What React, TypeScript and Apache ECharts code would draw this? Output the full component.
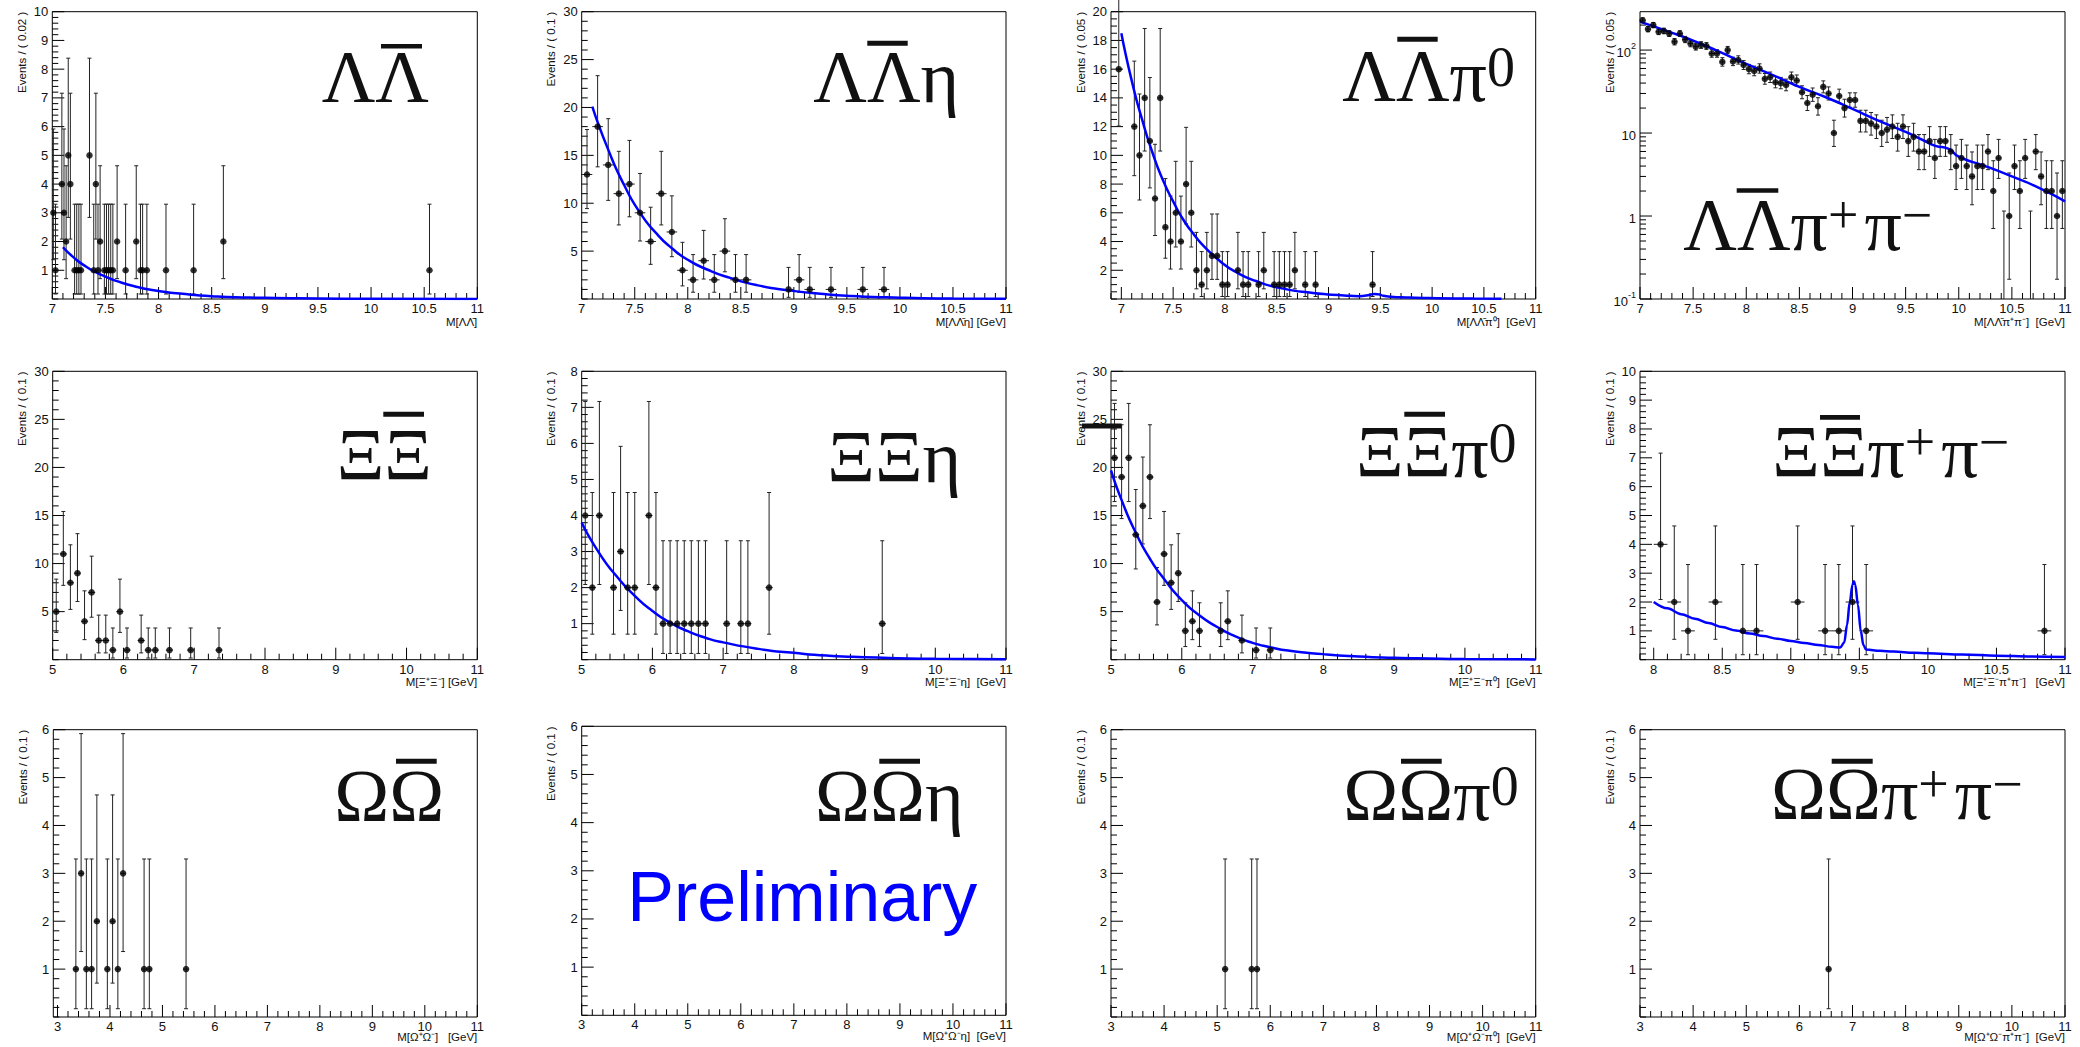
import { useEffect, useRef } from "react";
import * as echarts from "echarts";

// ---------- Poisson (Garwood 68%) intervals for small counts ----------
const POIS_LO = [0, 0.173, 0.708, 1.367, 2.086, 2.84, 3.62, 4.419, 5.232, 6.057, 6.891, 7.734, 8.585, 9.441, 10.3, 11.17, 12.04, 12.92, 13.8, 14.68, 15.57, 16.45];
const POIS_HI = [1.148, 3.3, 4.638, 5.918, 7.163, 8.382, 9.584, 10.77, 11.95, 13.11, 14.27, 15.42, 16.56, 17.7, 18.83, 19.96, 21.08, 22.2, 23.32, 24.44, 25.55, 26.66];

// ---------- tick labels ----------
const X_LAB_7 = [7, 7.5, 8, 8.5, 9, 9.5, 10, 10.5, 11];
const X_LAB_5 = [5, 6, 7, 8, 9, 10, 11];
const X_LAB_8 = [8, 8.5, 9, 9.5, 10, 10.5, 11];
const X_LAB_3 = [3, 4, 5, 6, 7, 8, 9, 10, 11];
const Y_LAB_10 = [1, 2, 3, 4, 5, 6, 7, 8, 9, 10];
const Y_LAB_30 = [5, 10, 15, 20, 25, 30];
const Y_LAB_20 = [2, 4, 6, 8, 10, 12, 14, 16, 18, 20];
const Y_LAB_8 = [1, 2, 3, 4, 5, 6, 7, 8];
const Y_LAB_6 = [1, 2, 3, 4, 5, 6];
const Y_LAB_LOG = [0.1, 1, 10, 100];

// ---------- Lambda Lambdabar ----------
const LL_X = [7.01, 7.03, 7.09, 7.11, 7.13, 7.15, 7.17, 7.21, 7.23, 7.25, 7.27, 7.35, 7.39, 7.41, 7.43, 7.45, 7.49, 7.51, 7.53, 7.55, 7.57, 7.61, 7.69, 7.79, 7.83, 7.85, 7.89, 8.07, 8.33, 8.61, 10.55];
const LL_N = [3, 1, 4, 3, 2, 5, 4, 1, 1, 1, 1, 5, 1, 4, 1, 2, 1, 1, 1, 1, 1, 2, 1, 2, 1, 1, 1, 1, 1, 2, 1];
const LL_FIT_X = [7.1, 7.2, 7.3, 7.4, 7.5, 7.6, 7.8, 8.0, 8.2, 8.5, 9.0, 9.5, 10.0, 11.0];
const LL_FIT_Y = [1.8, 1.45, 1.17, 0.95, 0.78, 0.63, 0.42, 0.28, 0.19, 0.1, 0.04, 0.02, 0.01, 0.003];

// ---------- Lambda Lambdabar eta ----------
const LLE_X = [7.05, 7.15, 7.25, 7.35, 7.45, 7.55, 7.65, 7.75, 7.85, 7.95, 8.05, 8.15, 8.25, 8.35, 8.45, 8.55, 8.95, 9.05, 9.15, 9.35, 9.65, 9.85];
const LLE_N = [13, 18, 14, 11, 12, 9, 6, 11, 7, 3, 2, 4, 2, 5, 2, 2, 1, 2, 1, 1, 1, 1];
const LLE_FIT_X = [7.1, 7.25, 7.4, 7.55, 7.7, 7.85, 8.0, 8.2, 8.4, 8.65, 8.95, 9.25, 9.55, 10.0, 10.5, 11.0];
const LLE_FIT_Y = [20.1, 15.6, 11.9, 9.0, 6.9, 5.3, 4.1, 3.0, 2.2, 1.45, 0.9, 0.55, 0.32, 0.14, 0.05, 0.02];

// ---------- Lambda Lambdabar pi0 ----------
const LLP_X = [6.975, 7.125, 7.175, 7.225, 7.275, 7.325, 7.375, 7.425, 7.475, 7.525, 7.575, 7.625, 7.675, 7.725, 7.775, 7.825, 7.875, 7.925, 7.975, 8.025, 8.125, 8.175, 8.225, 8.325, 8.375, 8.475, 8.525, 8.575, 8.625, 8.675, 8.775, 8.875, 9.425];
const LLP_N = [16, 12, 10, 14, 11, 7, 14, 5, 4, 6, 4, 8, 6, 2, 1, 2, 3, 3, 1, 1, 2, 1, 1, 1, 2, 1, 1, 1, 1, 2, 1, 1, 1];
const LLP_FIT_X = [7.0, 7.1, 7.2, 7.3, 7.4, 7.5, 7.6, 7.7, 7.8, 7.95, 8.1, 8.3, 8.55, 8.85, 9.15, 9.3, 9.38, 9.44, 9.48, 9.53, 9.6, 9.75, 10.05, 10.4, 10.67];
const LLP_FIT_Y = [18.5, 15.2, 12.5, 10.2, 8.3, 6.8, 5.5, 4.5, 3.65, 2.65, 1.9, 1.25, 0.74, 0.42, 0.25, 0.2, 0.26, 0.34, 0.33, 0.22, 0.16, 0.11, 0.06, 0.03, 0.02];

// ---------- Lambda Lambdabar pi+ pi- (log) ----------
const LLPP_X = [7.025, 7.075, 7.125, 7.175, 7.225, 7.275, 7.325, 7.375, 7.425, 7.475, 7.525, 7.575, 7.625, 7.675, 7.725, 7.775, 7.825, 7.875, 7.925, 7.975, 8.025, 8.075, 8.125, 8.175, 8.225, 8.275, 8.325, 8.375, 8.425, 8.475, 8.525, 8.575, 8.625, 8.675, 8.725, 8.775, 8.825, 8.875, 8.925, 8.975, 9.025, 9.075, 9.125, 9.175, 9.225, 9.275, 9.325, 9.375, 9.425, 9.475, 9.525, 9.575, 9.625, 9.675, 9.725, 9.775, 9.825, 9.875, 9.925, 9.975, 10.025, 10.075, 10.125, 10.175, 10.225, 10.275, 10.325, 10.375, 10.425, 10.475, 10.525, 10.575, 10.625, 10.675, 10.725, 10.775, 10.825, 10.875, 10.925, 10.975];
const LLPP_N = [229, 179, 200, 166, 170, 158, 126, 158, 134, 120, 110, 115, 112, 91, 91, 72, 100, 73, 76, 66, 59, 56, 60, 45, 47, 41, 40, 38, 47, 43, 31, 23, 29, 21, 36, 30, 10, 28, 20, 25, 25, 14, 14, 13, 12, 10, 11, 12, 9, 12, 8, 9, 6, 6, 8, 5, 8, 8, 6, 4, 5, 4, 3, 4, 4, 6, 2, 5, 0, 1, 4, 2, 5, 0, 6, 3, 2, 2, 1, 2];
const LLPP_FIT_X = [7.0, 7.25, 7.5, 7.75, 8.0, 8.25, 8.5, 8.75, 9.0, 9.25, 9.5, 9.7, 9.78, 9.9, 10.0, 10.25, 10.5, 10.75, 11.0];
const LLPP_FIT_Y = [220, 170, 130, 95, 68, 50, 36, 27, 19.5, 14, 10.3, 7.8, 7.0, 6.5, 5.2, 4.0, 3.0, 2.2, 1.5];

// ---------- Xi Xibar ----------
const XX_X = [5.05, 5.15, 5.25, 5.35, 5.45, 5.55, 5.65, 5.75, 5.85, 5.95, 6.05, 6.25, 6.35, 6.45, 6.65, 6.95, 7.35];
const XX_N = [5, 11, 8, 9, 4, 7, 2, 2, 1, 5, 1, 2, 1, 1, 1, 1, 1];

// ---------- Xi Xibar eta ----------
const XXE_X = [5.05, 5.15, 5.25, 5.45, 5.55, 5.65, 5.75, 5.95, 6.05, 6.15, 6.25, 6.35, 6.45, 6.55, 6.65, 6.75, 7.05, 7.25, 7.35, 7.65, 9.25];
const XXE_N = [4, 2, 4, 2, 3, 2, 2, 4, 2, 1, 1, 1, 1, 1, 1, 1, 1, 1, 1, 2, 1];
const XXE_FIT_X = [5.0, 5.25, 5.5, 5.75, 6.0, 6.25, 6.5, 6.75, 7.0, 7.5, 8.0, 8.5, 9.0, 10.0, 11.0];
const XXE_FIT_Y = [3.8, 2.95, 2.3, 1.77, 1.35, 1.03, 0.79, 0.61, 0.48, 0.3, 0.19, 0.11, 0.07, 0.025, 0.01];

// ---------- Xi Xibar pi0 ----------
const XXP_X = [5.05, 5.15, 5.25, 5.35, 5.45, 5.55, 5.65, 5.75, 5.85, 5.95, 6.05, 6.15, 6.25, 6.55, 6.65, 6.85, 7.05, 7.25];
const XXP_N = [21, 19, 21, 13, 16, 19, 6, 11, 8, 9, 3, 4, 3, 3, 4, 2, 1, 1];
const XXP_FIT_X = [5.0, 5.15, 5.35, 5.55, 5.75, 6.0, 6.25, 6.5, 6.75, 7.0, 7.25, 7.5, 8.0, 8.5, 9.0, 9.5, 10.0, 11.0];
const XXP_FIT_Y = [19.7, 16.6, 13.2, 10.5, 8.4, 6.2, 4.6, 3.4, 2.45, 1.75, 1.3, 0.95, 0.58, 0.34, 0.2, 0.12, 0.07, 0.03];
const XXP_STRAY = [[4.59, 24.3, 5.15]];

// ---------- Xi Xibar pi+ pi- ----------
const XXPP_X = [8.05, 8.15, 8.25, 8.45, 8.65, 8.75, 9.05, 9.25, 9.35, 9.45, 9.55, 10.85];
const XXPP_N = [4, 2, 1, 2, 1, 1, 2, 1, 1, 2, 1, 1];
const XXPP_FIT_X = [8.0, 8.1, 8.2, 8.3, 8.4, 8.5, 8.6, 8.7, 8.8, 8.9, 9.0, 9.1, 9.2, 9.3, 9.36, 9.39, 9.41, 9.43, 9.45, 9.46, 9.47, 9.49, 9.51, 9.53, 9.55, 9.65, 9.75, 9.9, 10.0, 10.25, 10.5, 10.75, 11.0];
const XXPP_FIT_Y = [2.0, 1.78, 1.58, 1.42, 1.27, 1.13, 1.01, 0.91, 0.82, 0.73, 0.65, 0.58, 0.51, 0.45, 0.42, 0.6, 1.2, 2.0, 2.6, 2.72, 2.6, 1.9, 1.0, 0.5, 0.35, 0.31, 0.28, 0.24, 0.22, 0.18, 0.14, 0.11, 0.09];

// ---------- Omega Omegabar ----------
const OO_X = [3.35, 3.45, 3.55, 3.65, 3.75, 3.95, 4.05, 4.15, 4.25, 4.65, 4.75, 5.45];
const OO_N = [1, 3, 1, 1, 2, 1, 2, 1, 3, 1, 1, 1];
const OOE_X: number[] = [];
const OOE_N: number[] = [];
const OOP_X = [5.15, 5.65, 5.75];
const OOP_N = [1, 1, 1];
const OOPP_X = [6.55];
const OOPP_N = [1];

const SANS = '"Liberation Sans", Arial, Helvetica, sans-serif';
const SERIF = '"Liberation Serif", "Times New Roman", serif';
const INK = "#111";

type Panel = any;

const PANELS: Panel[] = [
  { grid: [52.3, 11.7, 425, 287.3], xr: [7, 11], xl: X_LAB_7, xm: 0.1, yr: [0, 10], yl: Y_LAB_10, ym: 0.2, x: LL_X, n: LL_N, hw: 0.01, fx: LL_FIT_X, fy: LL_FIT_Y, yt: "Events / ( 0.02 )", xt: "M[ΛΛ\u0304]", xty: 322 },
  { grid: [581.7, 11.7, 424.3, 287.3], xr: [7, 11], xl: X_LAB_7, xm: 0.1, yr: [0, 30], yl: Y_LAB_30, ym: 1, x: LLE_X, n: LLE_N, hw: 0.05, fx: LLE_FIT_X, fy: LLE_FIT_Y, yt: "Events / ( 0.1 )", xt: "M[ΛΛ\u0304η] [GeV]", xty: 322 },
  { grid: [1111, 11.7, 424.7, 287.3], xr: [6.9, 11], xl: X_LAB_7, xm: 0.1, yr: [0, 20], yl: Y_LAB_20, ym: 0.5, x: LLP_X, n: LLP_N, hw: 0.025, fx: LLP_FIT_X, fy: LLP_FIT_Y, yt: "Events / ( 0.05 )", xt: "M[ΛΛ\u0304π⁰]  [GeV]", xty: 322 },
  { grid: [1640, 11.7, 425, 287.3], xr: [7, 11], xl: X_LAB_7, xm: 0.1, log: true, yr: [0.1, 290], yl: Y_LAB_LOG, ym: 0, x: LLPP_X, n: LLPP_N, hw: 0.025, fx: LLPP_FIT_X, fy: LLPP_FIT_Y, yt: "Events / ( 0.05 )", xt: "M[ΛΛ\u0304π⁺π⁻]  [GeV]", xty: 322 },
  { grid: [52.7, 371.3, 424.6, 288.4], xr: [5, 11], xl: X_LAB_5, xm: 0.2, yr: [0, 30], yl: Y_LAB_30, ym: 1, x: XX_X, n: XX_N, hw: 0.05, yt: "Events / ( 0.1 )", xt: "M[Ξ⁺Ξ⁻] [GeV]", xty: 681.5 },
  { grid: [581.7, 371.3, 424.3, 288.4], xr: [5, 11], xl: X_LAB_5, xm: 0.2, yr: [0, 8], yl: Y_LAB_8, ym: 0.2, x: XXE_X, n: XXE_N, hw: 0.05, fx: XXE_FIT_X, fy: XXE_FIT_Y, yt: "Events / ( 0.1 )", xt: "M[Ξ⁺Ξ⁻η]  [GeV]", xty: 681.5 },
  { grid: [1111, 371.3, 424.7, 288.4], xr: [5, 11], xl: X_LAB_5, xm: 0.2, yr: [0, 30], yl: Y_LAB_30, ym: 1, x: XXP_X, n: XXP_N, hw: 0.05, fx: XXP_FIT_X, fy: XXP_FIT_Y, stray: XXP_STRAY, yt: "Events / ( 0.1 )", xt: "M[Ξ⁺Ξ⁻π⁰]  [GeV]", xty: 681.5 },
  { grid: [1640, 371.3, 425, 288.4], xr: [7.9, 11], xl: X_LAB_8, xm: 0.1, yr: [0, 10], yl: Y_LAB_10, ym: 0.2, x: XXPP_X, n: XXPP_N, hw: 0.05, fx: XXPP_FIT_X, fy: XXPP_FIT_Y, peak: true, yt: "Events / ( 0.1 )", xt: "M[Ξ⁺Ξ⁻π⁺π⁻]   [GeV]", xty: 681.5 },
  { grid: [53.3, 729.7, 424, 287.3], xr: [2.92, 11], xl: X_LAB_3, xm: 0.2, yr: [0, 6], yl: Y_LAB_6, ym: 0.2, x: OO_X, n: OO_N, hw: 0.05, yt: "Events / ( 0.1 )", xt: "M[Ω⁺Ω⁻]   [GeV]", xty: 1037 },
  { grid: [581.7, 726.3, 424.3, 289], xr: [3, 11], xl: X_LAB_3, xm: 0.2, yr: [0, 6], yl: Y_LAB_6, ym: 0.2, x: OOE_X, n: OOE_N, hw: 0.05, yt: "Events / ( 0.1 )", xt: "M[Ω⁺Ω⁻η]  [GeV]", xty: 1035.5 },
  { grid: [1111, 729.7, 424.7, 287.3], xr: [3, 11], xl: X_LAB_3, xm: 0.2, yr: [0, 6], yl: Y_LAB_6, ym: 0.2, x: OOP_X, n: OOP_N, hw: 0.05, yt: "Events / ( 0.1 )", xt: "M[Ω⁺Ω⁻π⁰]  [GeV]", xty: 1037 },
  { grid: [1640, 729.7, 425, 287.3], xr: [3, 11], xl: X_LAB_3, xm: 0.2, yr: [0, 6], yl: Y_LAB_6, ym: 0.2, x: OOPP_X, n: OOPP_N, hw: 0.05, yt: "Events / ( 0.1 )", xt: "M[Ω⁺Ω⁻π⁺π⁻]  [GeV]", xty: 1037 },
];

// big particle labels: [left x, centre y, rich text]
const TITLES: [number, number, string][] = [
  [321.7, 77.2, "{m|ΛΛ}"],
  [813.3, 76.7, "{m|ΛΛη}"],
  [1342.3, 75.8, "{m|ΛΛπ}{z|0}"],
  [1683.3, 225, "{m|ΛΛπ}{p|+}{m|π}{p|−}"],
  [336.7, 454.8, "{m|ΞΞ}"],
  [827.3, 457.3, "{m|ΞΞη}"],
  [1356, 452.3, "{m|ΞΞπ}{z|0}"],
  [1772.3, 452.3, "{m|ΞΞπ}{p|+}{m|π}{p|−}"],
  [334.3, 796.3, "{m|ΩΩ}"],
  [815, 795.5, "{m|ΩΩη}"],
  [1343.3, 795, "{m|ΩΩπ}{z|0}"],
  [1771, 794.2, "{m|ΩΩπ}{p|+}{m|π}{p|−}"],
];
const BARS: [number, number, number, number][] = [
  [381, 44, 41, 4.5], [867.3, 40.7, 40.4, 5], [1397.3, 36.7, 40.4, 5], [1736.7, 188.3, 41.6, 4.5],
  [383.3, 411.7, 40.7, 5], [1404.3, 411.7, 40.7, 5], [1820, 415, 40, 4.7],
  [396, 758.7, 40.7, 5], [879.3, 758.7, 40.7, 5], [1401, 758.7, 40.7, 5], [1831.7, 758.7, 41, 5],
];

function poisLo(n: number) { return n <= 21 ? POIS_LO[n] : n - Math.sqrt(n + 0.25) + 0.5; }
function poisHi(n: number) { return n <= 21 ? POIS_HI[n] : n + Math.sqrt(n + 0.25) + 0.5; }

function fmtNum(v: number) { return String(+(+v).toFixed(3)); }

function tickData(p: Panel) {
  const out: number[][] = [];
  const addLinear = (min: number, max: number, step: number, labels: number[], majorKind: number, minorKind: number) => {
    const k0 = Math.ceil(min / step - 1e-6), k1 = Math.floor(max / step + 1e-6);
    for (let k = k0; k <= k1; k++) {
      const v = +(k * step).toFixed(6);
      const major = labels.some((l) => Math.abs(l - v) < 1e-6);
      out.push([v, major ? majorKind : minorKind]);
    }
  };
  addLinear(p.xr[0], p.xr[1], p.xm, p.xl, 1, 2);
  if (p.log) {
    for (const d of p.yl) {
      out.push([d, 3]);
      for (let m = 2; m <= 9; m++) if (d * m <= p.yr[1]) out.push([+(d * m).toFixed(6), 4]);
    }
  } else {
    addLinear(p.yr[0], p.yr[1], p.ym, p.yl, 3, 4);
  }
  return out;
}

function buildOption() {
  const grid: any[] = [], xAxis: any[] = [], yAxis: any[] = [], series: any[] = [], graphic: any[] = [];
  const lineStyle = { stroke: "#222", lineWidth: 1 };

  PANELS.forEach((p, i) => {
    const [gl, gt, gw, gh] = p.grid;
    grid.push({ left: gl, top: gt, width: gw, height: gh, show: true, borderColor: "#000", borderWidth: 1, backgroundColor: "transparent", containLabel: false, outerBoundsMode: "none" });
    xAxis.push({
      gridIndex: i, type: "value", min: p.xr[0], max: p.xr[1],
      axisLine: { show: false }, axisTick: { show: false }, splitLine: { show: false }, minorTick: { show: false },
      axisLabel: { customValues: p.xl, formatter: fmtNum, fontSize: 13, color: INK, fontFamily: SANS, margin: 3, hideOverlap: false, showMinLabel: true, showMaxLabel: true },
    });
    if (p.log) {
      yAxis.push({
        gridIndex: i, type: "log", logBase: 10, min: p.yr[0], max: p.yr[1],
        axisLine: { show: false }, axisTick: { show: false }, splitLine: { show: false }, minorTick: { show: false },
        axisLabel: {
          fontSize: 13, color: INK, fontFamily: SANS, margin: 4, hideOverlap: false, showMinLabel: true, showMaxLabel: true,
          formatter: (v: number) => {
            const lg = Math.log10(v);
            const e = Math.round(lg);
            if (Math.abs(lg - e) > 1e-4) return "";
            if (e === 0) return "{b|1}";
            if (e === 1) return "{b|10}";
            return "{b|10}{s|" + e + "}";
          },
          rich: {
            b: { fontSize: 13, fontFamily: SANS, color: INK, lineHeight: 18, verticalAlign: "bottom" },
            s: { fontSize: 9, fontFamily: SANS, color: INK, lineHeight: 10, verticalAlign: "top" },
          },
        },
      });
    } else {
      yAxis.push({
        gridIndex: i, type: "value", min: p.yr[0], max: p.yr[1],
        axisLine: { show: false }, axisTick: { show: false }, splitLine: { show: false }, minorTick: { show: false },
        axisLabel: { customValues: p.yl, formatter: fmtNum, fontSize: 13, color: INK, fontFamily: SANS, margin: 4, hideOverlap: false, showMinLabel: true, showMaxLabel: true },
      });
    }

    const yRef = p.yr[0];
    const xRef = p.xr[0];
    // ticks
    series.push({
      type: "custom", xAxisIndex: i, yAxisIndex: i, silent: true, z: 3, clip: false,
      data: tickData(p),
      renderItem: (params: any, api: any) => {
        const cs = params.coordSys;
        const v = api.value(0), kind = api.value(1);
        if (kind <= 2) {
          const px = api.coord([v, yRef])[0];
          const len = kind === 1 ? 12 : 6;
          return { type: "line", shape: { x1: px, y1: cs.y + cs.height, x2: px, y2: cs.y + cs.height - len }, style: { stroke: "#000", lineWidth: 1 } };
        }
        const py = api.coord([xRef, v])[1];
        const len = kind === 3 ? 12 : 6;
        return { type: "line", shape: { x1: cs.x, y1: py, x2: cs.x + len, y2: py }, style: { stroke: "#000", lineWidth: 1 } };
      },
    });

    // error bars
    const ebData = p.x.map((x: number, k: number) => {
      const n = p.n[k];
      const lo = Math.max(poisLo(n), p.yr[0]);
      const hi = poisHi(n);
      const y = n > 0 ? n : p.yr[0];
      return [x, y, lo, hi, p.hw, n];
    });
    series.push({
      type: "custom", xAxisIndex: i, yAxisIndex: i, silent: true, z: 4, clip: false,
      dimensions: ["x", "y", "lo", "hi", "hw", "n"], encode: { x: 0, y: 1 },
      data: ebData,
      renderItem: (params: any, api: any) => {
        const x = api.value(0), y = api.value(1), lo = api.value(2), hi = api.value(3), hw = api.value(4), n = api.value(5);
        const pLo = api.coord([x, lo]);
        const pHi = api.coord([x, hi]);
        const children: any[] = [
          { type: "line", shape: { x1: pLo[0], y1: pLo[1], x2: pHi[0], y2: pHi[1] }, style: lineStyle },
          { type: "line", shape: { x1: pHi[0] - 2, y1: pHi[1], x2: pHi[0] + 2, y2: pHi[1] }, style: lineStyle },
        ];
        if (n > 0) {
          children.push({ type: "line", shape: { x1: pLo[0] - 2, y1: pLo[1], x2: pLo[0] + 2, y2: pLo[1] }, style: lineStyle });
          const pL = api.coord([x - hw, y]);
          const pR = api.coord([x + hw, y]);
          children.push({ type: "line", shape: { x1: pL[0], y1: pL[1], x2: pR[0], y2: pR[1] }, style: lineStyle });
        }
        return { type: "group", children };
      },
    });

    // fit curve
    if (p.fx) {
      series.push({
        type: "line", xAxisIndex: i, yAxisIndex: i, silent: true, z: 5,
        data: p.fx.map((x: number, k: number) => [x, p.fy[k]]),
        showSymbol: false, symbol: "none",
        smooth: p.peak ? 0.35 : 0.6,
        smoothMonotone: p.peak ? "x" : undefined,
        lineStyle: { color: "#0000ff", width: 2.5 },
      });
    }

    // data points
    const pts = p.x.map((x: number, k: number) => [x, p.n[k]]).filter((d: number[]) => d[1] > 0);
    series.push({
      type: "scatter", xAxisIndex: i, yAxisIndex: i, silent: true, z: 6,
      data: pts, symbol: "circle", symbolSize: 6.5, itemStyle: { color: "#000" },
    });

    // stray overflow bar
    if (p.stray) {
      series.push({
        type: "custom", xAxisIndex: i, yAxisIndex: i, silent: true, z: 6, clip: false,
        data: p.stray,
        renderItem: (params: any, api: any) => {
          const a = api.coord([api.value(0), api.value(1)]);
          const b = api.coord([api.value(2), api.value(1)]);
          return { type: "rect", shape: { x: a[0], y: a[1] - 2.5, width: b[0] - a[0], height: 5 }, style: { fill: "#111" } };
        },
      });
    }

    // axis titles
    graphic.push({
      type: "text", x: gl - 30.5, y: gt, rotation: Math.PI / 2, silent: true,
      style: { text: p.yt, fontSize: 11.5, fontFamily: SANS, fill: INK, align: "right", verticalAlign: "middle", textAlign: "right", textVerticalAlign: "middle" },
    });
    graphic.push({
      type: "text", x: gl + gw, y: p.xty, silent: true,
      style: { text: p.xt, fontSize: 11.5, fontFamily: SANS, fill: INK, align: "right", verticalAlign: "middle", textAlign: "right", textVerticalAlign: "middle" },
    });
  });

  const rich = {
    m: { fontSize: 74, fontFamily: SERIF, color: INK, lineHeight: 74, verticalAlign: "middle" },
    z: { fontSize: 56, fontFamily: SERIF, color: INK, lineHeight: 61, verticalAlign: "top" },
    p: { fontSize: 54, fontFamily: SERIF, color: INK, lineHeight: 51, verticalAlign: "top", padding: [0, 6, 0, 0] },
  };
  TITLES.forEach(([x, y, t]) => {
    graphic.push({
      type: "text", x, y, silent: true,
      style: { text: t, rich, fontSize: 74, fontFamily: SERIF, fill: INK, align: "left", verticalAlign: "middle", textAlign: "left", textVerticalAlign: "middle" },
    });
  });
  BARS.forEach(([x, y, w, h]) => {
    graphic.push({ type: "rect", silent: true, shape: { x, y, width: w, height: h }, style: { fill: INK } });
  });
  graphic.push({
    type: "text", x: 627.3, y: 897, silent: true,
    style: { text: "Preliminary", fontSize: 70, fontFamily: SANS, fill: "#0000ff", align: "left", verticalAlign: "middle", textAlign: "left", textVerticalAlign: "middle" },
  });

  return {
    animation: false,
    backgroundColor: "#ffffff",
    textStyle: { fontFamily: SANS },
    grid, xAxis, yAxis, series, graphic,
  };
}

export default function App() {
  const ref = useRef<HTMLDivElement | null>(null);
  useEffect(() => {
    if (!ref.current) return;
    const chart = echarts.init(ref.current, null, { renderer: "svg" });
    chart.setOption(buildOption() as any);
    return () => chart.dispose();
  }, []);
  return (
    <div
      ref={ref}
      style={{ position: "fixed", left: 0, top: 0, width: 2080, height: 1047, background: "#fff" }}
    />
  );
}
